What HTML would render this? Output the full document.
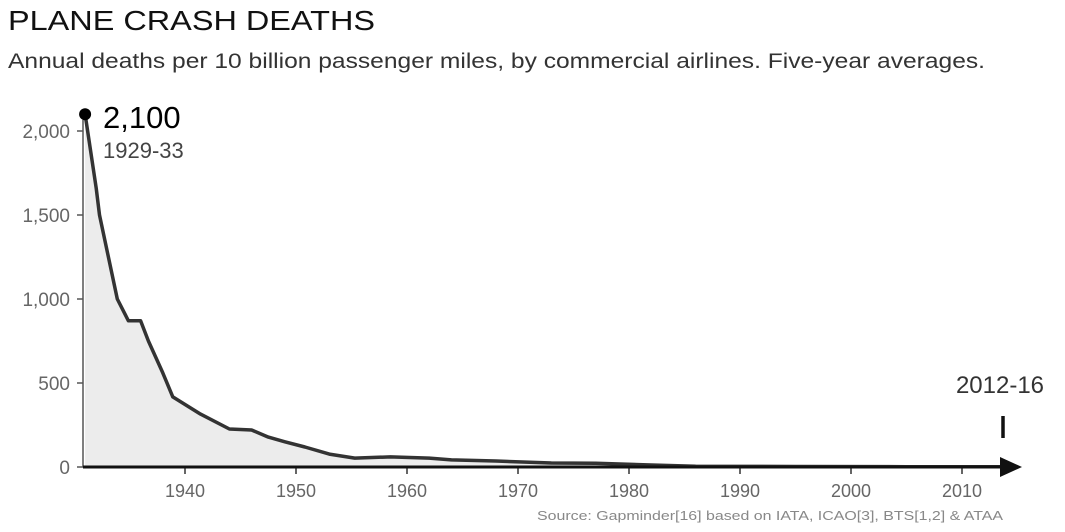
<!DOCTYPE html>
<html><head><meta charset="utf-8"><style>
body{margin:0;background:#fff;width:1065px;height:527px;overflow:hidden;font-family:"Liberation Sans",sans-serif}
</style></head><body>
<svg width="1065" height="527" viewBox="0 0 1065 527">
<text x="8" y="30" font-size="28" fill="#111" textLength="367" lengthAdjust="spacingAndGlyphs">PLANE CRASH DEATHS</text>
<text x="8" y="68" font-size="21" fill="#333" textLength="977" lengthAdjust="spacingAndGlyphs">Annual deaths per 10 billion passenger miles, by commercial airlines. Five-year averages.</text>
<g id="yaxis"></g>
<g id="xaxis"></g>
<path id="area" fill="#ececec"/>
<path id="line" fill="none" stroke="#333" stroke-width="3.5" stroke-linejoin="round"/>
<line x1="83" y1="120" x2="83" y2="467" stroke="#555" stroke-width="1.5"/>
<line x1="83" y1="467" x2="1002" y2="467" stroke="#111" stroke-width="3"/>
<polygon points="1000,457 1022,467 1000,477" fill="#111"/>
<circle id="startdot" r="6" fill="#000"/>
<text x="103" y="128" font-size="31" fill="#000">2,100</text>
<text x="103" y="158" font-size="22" fill="#444">1929-33</text>
<text x="1000" y="393" font-size="24" fill="#333" text-anchor="middle">2012-16</text>
<line x1="1003" y1="416" x2="1003" y2="438" stroke="#111" stroke-width="3.5"/>
<text x="537" y="520" font-size="13" fill="#888" textLength="466" lengthAdjust="spacingAndGlyphs">Source: Gapminder[16] based on IATA, ICAO[3], BTS[1,2] &amp; ATAA</text>
</svg>
<script>
const years=[1931,1932,1932.3,1933.9,1934.9,1936,1936.7,1938,1938.9,1941.4,1944,1946,1947.5,1949,1950.8,1953,1955.3,1958.5,1962,1964,1968,1973,1977,1982,1986,1995,2005,2013.5];
const deaths=[2100,1660,1500,1000,870,870,750,560,417,315,226,220,178,150,119,77,53,60,53,42,36,24,22,12,5,3,2,1];
const yTicks=[0,500,1000,1500,2000];
const yTickLabels=["0","500","1,000","1,500","2,000"];
const xTicks=[1940,1950,1960,1970,1980,1990,2000,2010];
const NS="http://www.w3.org/2000/svg";
function xs(y){return 185+(y-1940)*11.1;}
function ys(v){return 467-v*0.168;}
let d="";
years.forEach((y,i)=>{d+=(i?"L":"M")+xs(y).toFixed(1)+","+ys(deaths[i]).toFixed(1);});
document.getElementById("line").setAttribute("d",d);
document.getElementById("area").setAttribute("d",d+"L"+xs(years[years.length-1])+",467L"+xs(years[0])+",467Z");
const dot=document.getElementById("startdot");
dot.setAttribute("cx",xs(years[0])); dot.setAttribute("cy",ys(deaths[0]));
const ya=document.getElementById("yaxis");
yTicks.forEach((t,i)=>{
 const l=document.createElementNS(NS,"line");
 l.setAttribute("x1",77);l.setAttribute("x2",83);l.setAttribute("y1",ys(t));l.setAttribute("y2",ys(t));
 l.setAttribute("stroke","#555");l.setAttribute("stroke-width","1.5");
 
 
 ya.appendChild(l);
 const tx=document.createElementNS(NS,"text");
 tx.setAttribute("x",70);tx.setAttribute("y",ys(t)+7);tx.setAttribute("text-anchor","end");
 tx.setAttribute("font-size","19");tx.setAttribute("fill","#666");
 tx.textContent=yTickLabels[i];
 
 
 ya.appendChild(tx);
});
const xa=document.getElementById("xaxis");
xTicks.forEach(t=>{
 const l=document.createElementNS(NS,"line");
 l.setAttribute("x1",xs(t));l.setAttribute("x2",xs(t));l.setAttribute("y1",467);l.setAttribute("y2",474);
 l.setAttribute("stroke","#333");l.setAttribute("stroke-width","1.5");
 
 
 xa.appendChild(l);
 const tx=document.createElementNS(NS,"text");
 tx.setAttribute("x",xs(t));tx.setAttribute("y",497);tx.setAttribute("text-anchor","middle");
 tx.setAttribute("font-size","18");tx.setAttribute("fill","#666");
 tx.textContent=t;
 
 
 xa.appendChild(tx);
});
</script>
</body></html>
